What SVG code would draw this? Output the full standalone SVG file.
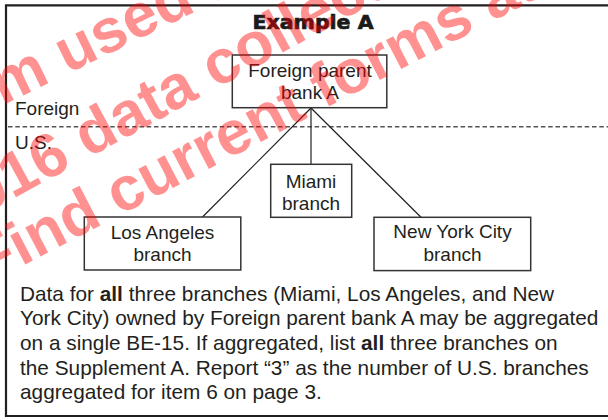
<svg xmlns="http://www.w3.org/2000/svg" width="608" height="420" viewBox="0 0 608 420">
<style>
.t{font-family:"Liberation Sans",Arial,sans-serif;fill:#231f20}
.lbl{font-size:19px;text-anchor:middle}
.side{font-size:19px}
.body{font-size:20.8px}
.box{fill:#fff;stroke:#333;stroke-width:1.5}
.con{stroke:#231f20;stroke-width:1.2;fill:none}
.wm{font-family:"Liberation Sans",Arial,sans-serif;font-weight:bold;font-size:62px;fill:#ff0000;fill-opacity:0.43}
</style>
<rect width="608" height="420" fill="#fff"/>
<g id="frame">
<path d="M608 5.3H6V416H608" fill="none" stroke="#231f20" stroke-width="2.2"/>
<line x1="8" y1="126.7" x2="608" y2="126.7" stroke="#555" stroke-width="1.6" stroke-dasharray="4.5 2.8"/>
<text class="t side" x="15" y="115">Foreign</text>
<text class="t side" x="15" y="149">U.S.</text>
<text x="313" y="29" text-anchor="middle" font-family="DejaVu Sans,sans-serif" font-weight="bold" font-size="20" fill="#1a1a1a" stroke="#1a1a1a" stroke-width="0.7" textLength="121" lengthAdjust="spacingAndGlyphs">Example A</text>
</g>
<g id="connectors">
<line class="con" x1="311" y1="108" x2="311" y2="164.3"/>
<line class="con" x1="311" y1="108" x2="202.5" y2="217"/>
<line class="con" x1="311" y1="108" x2="421" y2="217.3"/>
</g>
<g id="parent">
<rect class="box" x="232.3" y="55" width="154.5" height="52.7"/>
<text class="t lbl" x="310" y="77">Foreign parent</text>
<text class="t lbl" x="310" y="98.5">bank A</text>
</g>
<g id="miami">
<rect class="box" x="270.7" y="164.3" width="81" height="53"/>
<text class="t lbl" x="311" y="187.5">Miami</text>
<text class="t lbl" x="311" y="210">branch</text>
</g>
<g id="losangeles">
<rect class="box" x="84.3" y="217" width="156.5" height="53"/>
<text class="t lbl" x="162.5" y="238.5">Los Angeles</text>
<text class="t lbl" x="162.5" y="260.5">branch</text>
</g>
<g id="newyork">
<rect class="box" x="374" y="217.3" width="156.7" height="53.3"/>
<text class="t lbl" x="452.5" y="238">New York City</text>
<text class="t lbl" x="452.5" y="261">branch</text>
</g>
<g id="note">
<text class="t body" x="20" y="300.7">Data for <tspan font-weight="bold">all</tspan> three branches (Miami, Los Angeles, and New</text>
<text class="t body" x="20" y="325.3">York City) owned by Foreign parent bank A may be aggregated</text>
<text class="t body" x="20" y="350">on a single BE-15. If aggregated, list <tspan font-weight="bold">all</tspan> three branches on</text>
<text class="t body" x="20" y="374.7">the Supplement A. Report “3” as the number of U.S. branches</text>
<text class="t body" x="20" y="399.3">aggregated for item 6 on page 3.</text>
</g>
<g id="watermark">
<text class="wm" transform="translate(-72 142) rotate(-26)">form used for</text>
<text class="wm" transform="translate(-48 232) rotate(-28.5)">2016 data collection</text>
<text class="wm" transform="translate(-12 284) rotate(-27.5)">Find current forms at</text>
</g>
</svg>
